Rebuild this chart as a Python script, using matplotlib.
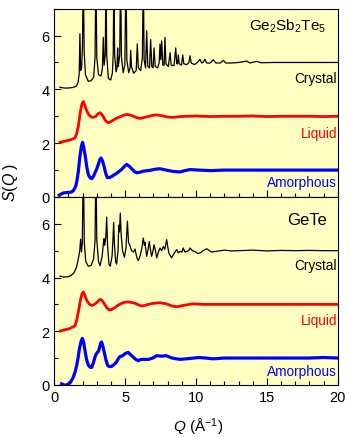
import matplotlib
matplotlib.use('Agg')
import numpy as np
import matplotlib.pyplot as plt
from matplotlib.ticker import MultipleLocator

plt.rcParams['font.family'] = ['Liberation Sans', 'DejaVu Sans']
plt.rcParams['mathtext.fontset'] = 'custom'
plt.rcParams['mathtext.rm'] = 'Liberation Sans'
plt.rcParams['mathtext.it'] = 'Liberation Sans:italic'

# S(Q) curves, columns are Q (1/A) and S(Q) (with offsets)
gst_crystal = np.array([
    [0.40, 4.08], [0.70, 4.05], [1.00, 4.05], [1.30, 4.07], [1.55, 4.12], [1.68, 4.25],
    [1.76, 4.60], [1.81, 6.07], [1.86, 4.70], [1.93, 4.80], [1.99, 5.60], [2.05, 8.50],
    [2.11, 5.40], [2.20, 4.55], [2.40, 4.30], [2.60, 4.32], [2.78, 4.45], [2.88, 5.20],
    [2.94, 8.50], [3.00, 5.20], [3.12, 4.55], [3.30, 4.50], [3.40, 4.80], [3.46, 5.93],
    [3.52, 4.90], [3.60, 5.30], [3.65, 8.50], [3.70, 5.30], [3.82, 4.40], [3.98, 4.35],
    [4.10, 4.60], [4.16, 5.30], [4.21, 8.50], [4.26, 5.30], [4.36, 4.65], [4.43, 4.80],
    [4.47, 5.54], [4.52, 4.85], [4.62, 5.30], [4.68, 8.50], [4.74, 5.20], [4.86, 4.62],
    [4.98, 4.90], [5.06, 8.50], [5.12, 5.10], [5.25, 4.62], [5.35, 4.80], [5.39, 5.45],
    [5.45, 4.85], [5.60, 4.60], [5.78, 4.70], [5.86, 5.69], [5.93, 4.80], [6.10, 4.70],
    [6.22, 5.20], [6.28, 8.50], [6.34, 5.10], [6.44, 4.80], [6.52, 6.18], [6.60, 4.85],
    [6.72, 4.80], [6.80, 5.85], [6.88, 4.85], [6.97, 4.80], [7.04, 5.54], [7.12, 4.85],
    [7.30, 4.80], [7.40, 5.00], [7.46, 5.69], [7.52, 5.10], [7.58, 5.80], [7.66, 4.90],
    [7.75, 4.90], [7.81, 5.93], [7.88, 4.95], [8.05, 4.85], [8.17, 5.36], [8.25, 4.90],
    [8.45, 4.88], [8.57, 5.54], [8.64, 4.95], [8.70, 4.95], [8.75, 5.28], [8.82, 4.95],
    [8.98, 4.90], [9.06, 5.28], [9.14, 4.95], [9.35, 4.92], [9.50, 5.00], [9.58, 5.25],
    [9.66, 4.98], [9.90, 4.92], [10.10, 5.00], [10.28, 5.12], [10.40, 4.98], [10.52, 5.02],
    [10.63, 5.12], [10.75, 4.98], [11.00, 4.98], [11.22, 5.10], [11.40, 4.98], [11.70, 4.98],
    [11.93, 5.08], [12.10, 4.98], [12.50, 4.98], [13.00, 5.00], [13.58, 5.05], [13.80, 4.98],
    [14.28, 5.04], [14.60, 4.99], [15.50, 5.00], [17.00, 5.00], [18.50, 5.00], [20.00, 5.00]])

gst_liquid = np.array([
    [0.40, 2.03], [0.80, 2.08], [1.11, 2.12], [1.46, 2.19], [1.58, 2.35], [1.69, 2.61],
    [1.86, 3.22], [1.95, 3.45], [2.05, 3.55], [2.15, 3.42], [2.28, 3.22], [2.45, 3.05],
    [2.64, 2.96], [2.80, 2.97], [2.94, 3.00], [3.10, 3.10], [3.23, 3.13], [3.35, 3.08],
    [3.46, 2.98], [3.62, 2.83], [3.81, 2.76], [4.00, 2.80], [4.17, 2.86], [4.40, 2.93],
    [4.64, 2.98], [4.90, 3.04], [5.11, 3.07], [5.35, 3.05], [5.58, 3.00], [5.82, 2.95],
    [6.05, 2.92], [6.30, 2.95], [6.52, 2.98], [6.90, 3.03], [7.20, 3.05], [7.60, 3.02],
    [8.00, 2.97], [8.40, 2.96], [8.90, 2.99], [9.35, 3.00], [10.0, 3.01], [11.0, 2.99],
    [12.0, 3.00], [13.0, 3.00], [14.0, 3.01], [15.0, 2.99], [16.0, 3.00], [17.0, 3.00],
    [18.0, 3.00], [19.0, 2.99], [20.0, 3.00]])

gst_amorphous = np.array([
    [0.35, 0.07], [0.64, 0.15], [0.99, 0.17], [1.20, 0.18], [1.34, 0.23], [1.50, 0.38],
    [1.58, 0.54], [1.70, 0.95], [1.81, 1.51], [1.92, 1.90], [2.00, 2.03], [2.08, 1.85],
    [2.19, 1.51], [2.30, 1.10], [2.40, 0.84], [2.52, 0.72], [2.64, 0.68], [2.78, 0.78],
    [2.87, 0.90], [2.99, 1.03], [3.10, 1.20], [3.22, 1.40], [3.30, 1.45], [3.40, 1.35],
    [3.51, 1.15], [3.62, 0.90], [3.74, 0.72], [3.88, 0.72], [4.05, 0.76], [4.22, 0.82],
    [4.40, 0.88], [4.60, 0.96], [4.76, 1.03], [4.95, 1.14], [5.11, 1.21], [5.28, 1.15],
    [5.46, 1.05], [5.64, 0.95], [5.82, 0.90], [6.05, 0.92], [6.28, 0.96], [6.75, 0.99],
    [7.10, 1.03], [7.46, 1.05], [7.90, 1.00], [8.40, 0.95], [8.87, 0.93], [9.20, 0.98],
    [9.60, 1.02], [10.2, 1.00], [11.0, 0.98], [12.0, 1.00], [13.0, 1.00], [14.0, 1.00],
    [15.0, 1.00], [16.0, 1.00], [17.0, 1.00], [18.0, 1.00], [19.0, 1.00], [20.0, 1.00]])

gete_crystal = np.array([
    [0.40, 4.05], [0.70, 4.02], [1.00, 4.03], [1.20, 4.08], [1.40, 4.18], [1.58, 4.40],
    [1.70, 4.70], [1.80, 5.00], [1.86, 5.43], [1.92, 4.95], [1.98, 5.30], [2.05, 8.50],
    [2.12, 5.30], [2.22, 4.60], [2.40, 4.42], [2.60, 4.45], [2.78, 4.70], [2.88, 5.40],
    [2.94, 8.50], [3.00, 5.40], [3.12, 4.60], [3.23, 4.44], [3.38, 4.80], [3.47, 5.30],
    [3.51, 5.45], [3.56, 5.20], [3.64, 5.50], [3.70, 6.25], [3.76, 5.20], [3.86, 4.50],
    [3.95, 4.42], [4.08, 4.80], [4.14, 5.40], [4.19, 6.05], [4.25, 5.20], [4.33, 4.60],
    [4.40, 4.50], [4.50, 5.00], [4.55, 5.95], [4.60, 5.70], [4.66, 6.40], [4.72, 5.60],
    [4.82, 5.00], [4.95, 4.75], [5.06, 5.10], [5.16, 6.10], [5.24, 5.30], [5.34, 5.19],
    [5.45, 5.00], [5.60, 4.95], [5.70, 5.06], [5.82, 4.75], [5.93, 4.63], [6.05, 4.80],
    [6.17, 5.06], [6.28, 5.47], [6.36, 5.20], [6.40, 5.31], [6.52, 4.79], [6.62, 5.05],
    [6.70, 5.34], [6.80, 5.00], [6.87, 4.79], [6.95, 4.95], [7.04, 5.22], [7.14, 5.00],
    [7.23, 4.73], [7.35, 4.95], [7.46, 5.10], [7.58, 5.00], [7.69, 5.16], [7.80, 5.05],
    [7.93, 5.41], [8.02, 5.10], [8.09, 4.91], [8.28, 4.73], [8.45, 4.90], [8.64, 5.04],
    [8.75, 4.92], [8.87, 4.97], [9.00, 4.95], [9.10, 5.10], [9.22, 4.95], [9.34, 4.97],
    [9.48, 5.00], [9.58, 5.10], [9.75, 5.00], [9.93, 4.97], [10.10, 4.90], [10.28, 4.91],
    [10.50, 5.00], [10.76, 5.07], [10.95, 5.00], [11.10, 4.95], [11.50, 4.98], [12.00, 5.02],
    [12.50, 4.99], [13.00, 5.00], [14.00, 5.02], [15.00, 4.99], [16.00, 5.01], [17.00, 5.00],
    [18.00, 5.01], [19.00, 5.00], [20.00, 5.00]])

gete_liquid = np.array([
    [0.45, 2.01], [0.80, 2.06], [1.11, 2.10], [1.46, 2.20], [1.58, 2.40], [1.69, 2.69],
    [1.86, 3.19], [1.96, 3.40], [2.05, 3.46], [2.15, 3.35], [2.28, 3.16], [2.45, 3.02],
    [2.64, 2.96], [2.80, 2.99], [2.99, 3.06], [3.15, 3.15], [3.27, 3.19], [3.40, 3.13],
    [3.51, 3.04], [3.70, 2.88], [3.88, 2.79], [4.05, 2.81], [4.28, 2.88], [4.50, 2.97],
    [4.76, 3.04], [5.00, 3.08], [5.22, 3.09], [5.45, 3.07], [5.70, 3.04], [5.95, 2.98],
    [6.17, 2.94], [6.40, 2.96], [6.64, 3.00], [7.00, 3.04], [7.46, 3.06], [7.90, 3.02],
    [8.30, 2.94], [8.64, 2.91], [9.20, 2.97], [9.80, 3.02], [10.5, 3.00], [11.5, 3.00],
    [12.5, 3.00], [13.5, 3.00], [14.5, 3.00], [15.5, 3.00], [16.5, 3.00], [17.5, 3.00],
    [18.5, 3.00], [20.0, 3.00]])

gete_amorphous = np.array([
    [0.52, 0.04], [0.75, -0.02], [0.95, 0.02], [1.11, 0.07], [1.34, 0.28], [1.47, 0.48],
    [1.58, 0.72], [1.68, 1.00], [1.77, 1.33], [1.88, 1.60], [1.98, 1.73], [2.07, 1.60],
    [2.17, 1.27], [2.28, 0.95], [2.40, 0.74], [2.52, 0.66], [2.64, 0.65], [2.76, 0.82],
    [2.87, 1.03], [2.96, 1.15], [3.04, 1.21], [3.12, 1.25], [3.20, 1.40], [3.28, 1.56],
    [3.34, 1.60], [3.43, 1.45], [3.53, 1.21], [3.65, 0.92], [3.77, 0.72], [3.90, 0.68],
    [4.05, 0.69], [4.22, 0.76], [4.40, 0.86], [4.52, 0.98], [4.64, 1.06], [4.76, 1.07],
    [4.87, 1.11], [5.05, 1.18], [5.22, 1.21], [5.40, 1.12], [5.58, 1.03], [5.75, 0.95],
    [5.93, 0.90], [6.05, 0.94], [6.28, 0.95], [6.64, 0.95], [6.95, 1.00], [7.23, 1.09],
    [7.55, 1.07], [7.90, 1.09], [8.30, 1.00], [8.87, 0.95], [9.50, 0.98], [10.2, 1.02],
    [10.7, 1.00], [11.2, 0.97], [12.0, 1.00], [13.0, 1.00], [14.0, 1.00], [15.0, 1.00],
    [16.0, 1.00], [17.0, 1.00], [18.0, 1.00], [19.0, 1.02], [20.0, 1.00]])

curve_labels = ['Crystal', 'Liquid', 'Amorphous']
label_y_gst = [4.44, 2.39, 0.54]
label_y_gete = [4.48, 2.42, 0.51]

BG = '#ffffc2'
COLORS = ['black', '#ff0000', '#0000ff']
WIDTHS = [0.9, 2.0, 2.3]


def drawPanel(ax, curves, title, title_y, title_size, label_y):
    ax.set_facecolor(BG)
    for data, c, lw in zip(curves, COLORS, WIDTHS):
        ax.plot(data[:, 0], data[:, 1], color=c, lw=lw, solid_joinstyle='round')
    for txt, y, c in zip(curve_labels, label_y, COLORS):
        ax.text(19.95, y, txt, color=c, ha='right', va='center', fontsize=9.8)
    ax.text(19.2, title_y, title, ha='right', va='center', fontsize=title_size)
    ax.set_xlim(0, 20)
    ax.set_ylim(0, 7)
    ax.xaxis.set_major_locator(MultipleLocator(5))
    ax.xaxis.set_minor_locator(MultipleLocator(1))
    ax.yaxis.set_major_locator(MultipleLocator(2))
    ax.yaxis.set_minor_locator(MultipleLocator(1))
    ax.tick_params(which='both', direction='in', width=0.8, labelsize=10.5, top=False, right=False)
    ax.tick_params(which='major', length=5)
    ax.tick_params(which='minor', length=2.8)
    for sp in ax.spines.values():
        sp.set_linewidth(0.8)


fig = plt.figure(figsize=(3.5, 4.39), dpi=100)
ax1 = fig.add_axes([0.155, 0.549, 0.81, 0.429])
ax2 = fig.add_axes([0.155, 0.121, 0.81, 0.428])

drawPanel(ax1, [gst_crystal, gst_liquid, gst_amorphous], r'Ge$_2$Sb$_2$Te$_5$', 6.37, 11, label_y_gst)
drawPanel(ax2, [gete_crystal, gete_liquid, gete_amorphous], 'GeTe', 6.15, 12, label_y_gete)
ax1.tick_params(labelbottom=False)

fig.text(0.03, 0.585, r'$S$($Q$ )', rotation=90, ha='center', va='center', fontsize=11.5)
fig.text(0.565, 0.026, r'$Q$ (Å$^{-1}$)', ha='center', va='center', fontsize=11)

fig.savefig('out.png', dpi=100)
